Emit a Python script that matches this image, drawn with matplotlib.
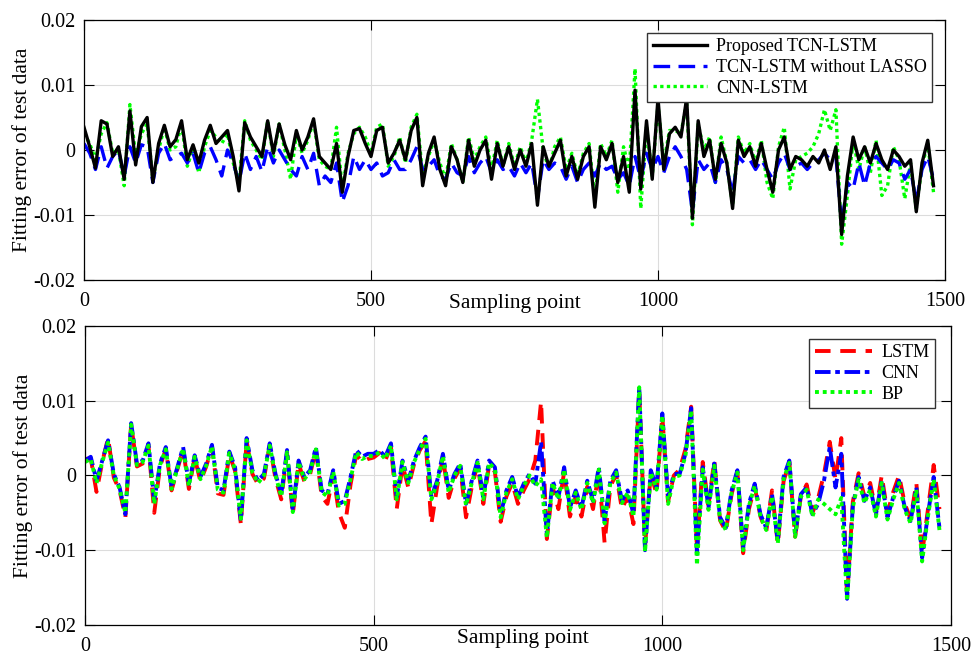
import numpy as np
import matplotlib
matplotlib.use("Agg")
import matplotlib.pyplot as plt

plt.rcParams['font.family'] = ['Liberation Serif', 'DejaVu Serif']

# fitting errors, read every 10 samples, in units of 1e-3
step = 10

tcn_lstm = [
    3.5, 0.5, -2.8, 4.5, 4.0, -1.0,
    0.5, -4.5, 6.0, -2.3, 3.6, 5.0,
    -5.0, 1.0, 3.8, 0.5, 1.6, 4.5,
    -1.5, 0.8, -2.0, 1.5, 3.8, 1.0,
    2.0, 3.0, -1.0, -6.3, 4.2, 2.0,
    0.5, -1.0, 4.5, -0.5, 4.0, 0.8,
    -1.5, 3.0, 0.0, 2.0, 4.8, -1.0,
    -2.0, -3.0, 1.0, -6.5, -1.0, 3.0,
    3.3, 1.0, -1.0, 3.0, 3.5, -2.0,
    -0.5, 1.5, -1.5, 3.0, 5.0, -5.5,
    -0.5, 2.0, -3.0, -5.5, 0.5, -1.5,
    -5.0, 1.5, -2.5, 0.0, 1.5, -4.5,
    1.0, -2.5, 0.5, -3.0, 0.0, -2.5,
    1.0, -8.5, 0.5, -2.5, -0.5, 1.5,
    -4.0, -1.0, -4.5, -1.0, 0.5, -8.8,
    0.5, -1.5, 1.0, -5.0, -1.0, -6.5,
    9.2, -6.0, 4.5, -4.5, 8.0, -3.0,
    2.5, 3.5, 2.0, 8.0, -10.5, 4.5,
    -1.0, 1.5, -4.5, 1.0, -2.0, -9.0,
    1.5, -1.0, 0.5, -2.5, 1.0, -3.0,
    -6.5, 0.0, 2.0, -3.0, -1.0, -1.5,
    -2.5, -1.0, -2.0, 0.0, -3.0, 0.5,
    -13.0, -4.0, 2.0, -1.5, 0.5, -2.0,
    1.0, -1.5, -3.0, 0.0, -1.0, -2.5,
    -1.5, -9.5, -2.0, 1.5, -5.5,
]

tcn_no_lasso = [
    1.0, -0.5, -3.0, 0.5, -2.8, -1.0,
    0.0, -4.0, 0.5, -2.0, 0.8, 0.5,
    -5.0, -0.5, 1.0, -1.5, -1.0, -0.5,
    -2.0, -0.5, -3.5, -0.5, 0.5, -1.5,
    -4.0, 0.0, -2.0, -5.0, -0.5, -3.0,
    -1.0, -3.3, 0.5, -2.0, 0.0, -1.5,
    -3.0, -4.0, -1.0, -3.0, -0.5, -5.5,
    -4.0, -5.0, -2.0, -8.0, -5.5, -1.0,
    -3.0, -1.5, -3.0, -2.0, -4.0, -3.5,
    -1.5, -3.0, -3.0, -1.5, 0.5, -3.0,
    -2.5, -1.5, -4.0, -4.5, -2.0, -3.5,
    -4.0, -1.0, -3.5, -2.0, -1.0, -3.5,
    -1.5, -3.0, -2.5, -4.0, -2.0, -3.5,
    -2.0, -7.5, -1.5, -3.0, -2.0, -2.5,
    -4.5, -2.5, -5.0, -3.0, -2.0, -4.0,
    -2.0, -3.0, -2.5, -4.5, -3.5, -5.5,
    -1.0, -4.5, -0.5, -3.0, -1.0, -3.5,
    -1.0, 0.5, -1.0, -3.0, -9.5, -1.5,
    -3.0, -2.0, -5.0, -1.5, -3.0, -6.5,
    -1.0, -2.0, -1.5, -3.0, -1.5, -3.0,
    -4.5, -2.0, -0.5, -3.0, -2.5, -2.0,
    -3.0, -2.0, -1.5, -0.5, -1.5, -1.0,
    -11.5, -5.0, -6.0, -2.0, -5.5, -2.0,
    -1.0, -2.0, -3.0, -1.5, -2.0, -4.5,
    -3.0, -8.0, -3.0, -1.0, -4.5,
]

cnn_lstm = [
    2.5, 1.0, -1.5, 2.5, 4.2, -0.5,
    0.0, -5.5, 7.0, -1.0, 2.5, 4.0,
    -4.5, 0.0, 3.5, 0.0, 0.5, 4.0,
    -2.5, 0.2, -3.5, 0.5, 3.0, 2.0,
    1.0, 2.5, -2.0, -5.0, 4.5, 1.5,
    0.0, -1.5, 4.5, -1.0, 4.0, 0.0,
    -4.5, 2.5, -0.5, 1.5, 4.5, -1.5,
    -2.5, -3.0, 3.5, -6.0, -0.5, 2.5,
    3.5, 2.0, -0.5, 3.5, 4.0, -2.5,
    -1.0, 2.0, -2.0, 3.5, 5.5, -4.0,
    -1.0, 1.5, -2.0, -4.5, 1.0, -1.5,
    -5.0, 2.0, -1.5, 0.5, 2.0, -3.0,
    1.5, -2.5, 1.0, -2.5, 0.5, -2.0,
    1.5, 7.8, 0.0, -3.0, 0.5, 2.0,
    -3.0, -0.5, -4.0, -0.5, 1.0, -7.5,
    1.0, -1.0, 1.5, -6.5, 0.5, -3.0,
    12.5, -9.0, 3.5, -4.0, 7.0, -2.0,
    3.0, 3.0, 2.5, 7.5, -11.5, 4.0,
    0.0, 2.0, -5.0, 2.0, -2.0, -8.5,
    2.0, -0.5, 1.0, -2.0, 1.5, -5.0,
    -7.5, 0.5, 3.5, -6.0, -1.5, -1.0,
    -0.5, 0.5, 2.5, 6.2, 3.0, 6.2,
    -14.5, -7.0, 1.5, -3.0, 0.5, -3.5,
    1.5, -7.0, -5.5, 0.5, -1.5, -7.5,
    -2.0, -9.0, -2.5, 1.0, -6.5,
]

lstm = [
    2.2, 2.3, -2.2, 1.8, 5.0, -0.3,
    -2.0, -5.6, 6.8, 1.2, 1.6, 4.0,
    -5.0, 1.2, 3.5, -2.0, 0.8, 3.5,
    -1.8, 2.4, -0.8, 1.2, 3.8, -2.4,
    -2.6, 2.8, 0.6, -6.5, 4.6, 0.2,
    -1.2, -0.4, 4.0, -0.4, -3.2, 3.0,
    -5.2, 1.6, -0.8, 0.2, 3.4, -2.8,
    -3.8, 0.0, -5.0, -7.0, -1.2, 2.8,
    1.8, 2.2, 2.4, 3.0, 2.0, 3.8,
    -4.5, 1.4, -1.6, 1.5, 3.4, 4.6,
    -6.5, -1.5, 2.4, -3.0, -0.4, 1.0,
    -5.6, -1.5, 1.5, -3.8, 1.4, 0.5,
    -6.2, -2.8, -1.0, -3.8, -2.0, -0.5,
    2.0, 9.9, -8.5, -1.5, -4.5, 0.5,
    -5.5, -2.8, -5.5, -1.5, -4.5, 0.6,
    -9.0, -1.5, 0.2, -4.5, -2.8, -6.5,
    11.5, -9.5, 0.3, -2.5, 8.0, -3.5,
    0.0, 0.8, 3.5, 9.2, -10.0, 1.8,
    -4.0, 2.0, -6.0, -7.5, -2.5, 0.5,
    -10.4, -4.5, -1.5, -5.5, -7.5, -2.0,
    -9.2, -0.8, 1.8, -8.2, -2.8, -1.2,
    -5.0, -3.0, 0.2, 4.5, -0.5, 5.0,
    -16.3, -3.5, 0.3, -2.8, -1.0, -4.8,
    0.0, -5.0, -2.2, 0.0, -3.8, -5.8,
    -1.0, -10.5, -4.5, 1.4, -4.5,
]

cnn = [
    2.0, 2.5, -0.7, 2.0, 4.7, 0.2,
    -1.6, -5.2, 7.0, 1.6, 2.0, 4.3,
    -3.4, 1.6, 3.8, -1.6, 1.1, 3.8,
    -1.1, 2.7, -0.2, 1.6, 4.1, -1.6,
    -2.0, 3.2, 1.1, -6.1, 5.0, 0.7,
    -0.7, 0.2, 4.3, 0.2, -2.5, 3.4,
    -4.7, 2.0, -0.2, 0.7, 3.8, -2.0,
    -2.5, 0.7, -3.8, -3.4, -0.2, 3.4,
    2.5, 2.9, 2.9, 3.4, 2.5, 4.3,
    -2.9, 2.0, -0.7, 2.0, 3.8, 5.2,
    -2.9, -0.7, 2.9, -2.0, 0.2, 1.6,
    -3.8, -0.7, 2.0, -2.9, 2.0, 1.1,
    -5.2, -2.0, -0.2, -2.9, -1.1, 0.2,
    -1.1, 4.5, -7.9, -0.7, -2.9, 1.1,
    -4.3, -2.0, -4.3, -0.7, -3.4, 1.1,
    -6.1, -0.7, 0.7, -3.4, -2.0, -5.2,
    11.9, -10.0, 0.7, -1.6, 8.3, -3.0,
    0.2, 0.2, 2.9, 9.0, -10.5, 1.1,
    -4.3, 1.6, -5.6, -7.0, -2.0, 0.7,
    -9.7, -3.8, -1.1, -5.2, -7.0, -2.5,
    -8.8, -0.2, 2.0, -7.9, -2.5, -1.6,
    -5.2, -3.8, -0.7, 3.8, -1.6, 2.9,
    -16.5, -4.0, -0.2, -3.4, -1.6, -5.2,
    -0.7, -5.6, -2.9, -0.7, -4.3, -6.1,
    -1.6, -11.0, -5.2, -0.2, -7.0,
]

bp = [
    1.8, 2.2, -1.0, 1.8, 4.4, 0.0,
    -1.8, -5.0, 6.8, 1.4, 1.8, 4.0,
    -3.8, 1.4, 3.5, -1.8, 0.9, 3.6,
    -1.4, 2.5, -0.5, 1.3, 3.9, -1.9,
    -2.3, 3.0, 0.8, -5.8, 4.7, 0.4,
    -1.0, 0.0, 4.0, 0.0, -2.8, 3.1,
    -4.9, 1.8, -0.5, 0.5, 3.5, -2.2,
    -2.8, 0.5, -4.0, -3.8, -0.5, 3.1,
    2.2, 2.6, 2.6, 3.1, 2.2, 4.0,
    -3.2, 1.8, -1.0, 1.8, 3.5, 4.9,
    -3.2, -1.0, 2.6, -2.3, 0.0, 1.3,
    -4.0, -1.0, 1.7, -3.2, 1.7, 0.8,
    -5.6, -2.3, -0.5, -3.2, -1.4, 0.0,
    -1.4, -0.5, -8.3, -1.0, -3.2, 0.8,
    -4.6, -2.3, -4.6, -1.0, -3.7, 0.8,
    -6.4, -1.0, 0.4, -3.7, -2.3, -5.5,
    11.8, -10.2, 0.4, -1.9, 8.0, -3.8,
    -0.2, 0.0, 2.6, 8.7, -12.0, 0.8,
    -4.6, 1.3, -5.9, -7.3, -2.3, 0.4,
    -10.0, -4.1, -1.4, -5.5, -7.3, -2.8,
    -9.1, -0.5, 1.7, -8.2, -2.8, -1.9,
    -5.5, -3.2, -3.8, -4.5, -5.2, -3.0,
    -16.8, -4.3, -0.5, -3.7, -1.9, -5.5,
    -1.0, -5.9, -3.2, -1.0, -4.6, -6.4,
    -1.9, -11.5, -5.5, -0.5, -7.3,
]

yticks = [-0.02, -0.01, 0, 0.01, 0.02]
ytick_labels = ['-0.02', '-0.01', '0', '0.01', '0.02']
xticks = [0, 500, 1000, 1500]

x = np.arange(len(tcn_lstm)) * step


def style(ax):
    ax.set_xlim(0, 1500)
    ax.set_ylim(-0.02, 0.02)
    ax.set_xticks(xticks)
    ax.set_yticks(yticks)
    ax.set_yticklabels(ytick_labels)
    ax.tick_params(direction='in', length=7, width=0.8, labelsize=14.5,
                   top=True, right=True, pad=6)
    ax.tick_params(axis='x', pad=9)
    ax.grid(True, color='#dcdcdc', linewidth=0.8)
    ax.set_axisbelow(True)
    for s in ax.spines.values():
        s.set_linewidth(0.9)
    ax.set_ylabel('Fitting error of test data', fontsize=15.5, labelpad=1)
    ax.set_xlabel('Sampling point', fontsize=15.5)


fig = plt.figure(figsize=(9.71, 6.56), dpi=100)
ax1 = fig.add_axes([0.0865, 0.5732, 0.8867, 0.3963])
ax2 = fig.add_axes([0.0875, 0.0473, 0.8919, 0.4558])

s = 1e-3
g, = ax1.plot(x, np.array(cnn_lstm) * s, color='#00ff00', lw=2.4, ls=(0, (1, 1)))
b, = ax1.plot(x, np.array(tcn_no_lasso) * s, color='#0000ff', lw=2.4, ls=(0, (5, 2.5)))
k, = ax1.plot(x, np.array(tcn_lstm) * s, color='black', lw=2.4)
style(ax1)
ax1.xaxis.set_label_coords(0.5, -0.055)
ax1.legend([k, b, g], ['Proposed TCN-LSTM', 'TCN-LSTM without LASSO', 'CNN-LSTM'],
           loc='upper right', bbox_to_anchor=(0.985, 0.95), fontsize=13,
           fancybox=False, framealpha=1, edgecolor='#333333', handlelength=3.0,
           borderpad=0.3, labelspacing=0.2, handletextpad=0.5, borderaxespad=0)

r, = ax2.plot(x, np.array(lstm) * s, color='#ff0000', lw=2.8, ls=(0, (4, 2.5)))
bb, = ax2.plot(x, np.array(cnn) * s, color='#0000ff', lw=2.8, ls=(0, (4, 1.2, 1.2, 1.2)))
gg, = ax2.plot(x, np.array(bp) * s, color='#00ff00', lw=2.8, ls=(0, (1, 1)))
style(ax2)
ax2.xaxis.set_label_coords(0.506, -0.015)
ax2.legend([r, bb, gg], ['LSTM', 'CNN', 'BP'],
           loc='upper right', bbox_to_anchor=(0.9815, 0.9565), fontsize=13,
           fancybox=False, framealpha=1, edgecolor='#333333', handlelength=3.2,
           borderpad=0.3, labelspacing=0.2, handletextpad=0.5, borderaxespad=0)

fig.savefig('out.png', dpi=100)
